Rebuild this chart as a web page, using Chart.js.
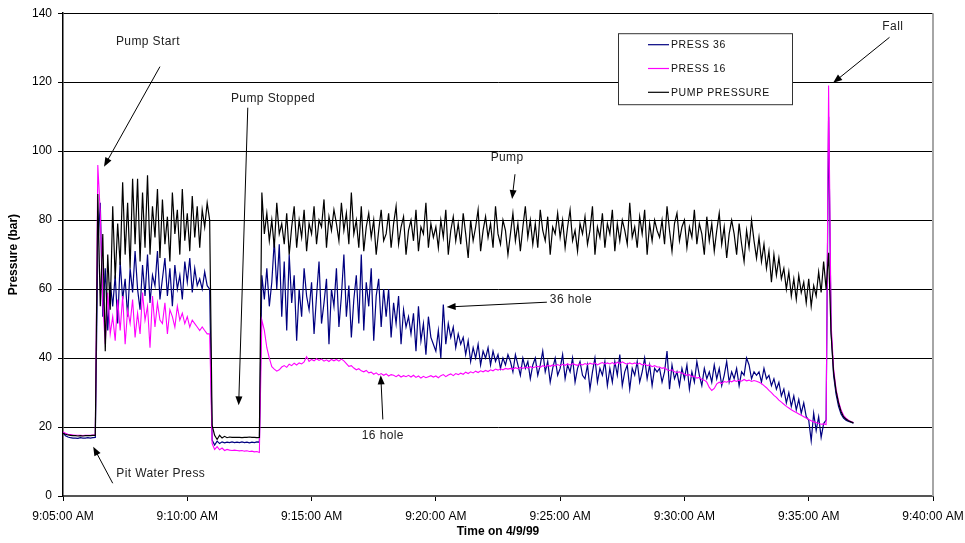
<!DOCTYPE html>
<html>
<head>
<meta charset="utf-8">
<title>Pressure on 4/9/99</title>
<script src="https://cdn.jsdelivr.net/npm/chart.js@4.4.1/dist/chart.umd.min.js"></script>
<style>
  html, body { margin: 0; padding: 0; background: #fff; }
  #wrap { width: 965px; height: 543px; }
</style>
</head>
<body>
<div id="wrap"><canvas id="pressureChart" width="965" height="543"></canvas></div>
<script>
/**
 * Logged readings, one every 6 seconds from 9:05:00 AM (one row = one minute).
 */
const sampleSeconds = 6
const seriesLabels = ["PRESS 36", "PRESS 16", "PUMP PRESSURE"]
const timeTicks = ["9:05:00 AM", "9:10:00 AM", "9:15:00 AM", "9:20:00 AM",
    "9:25:00 AM", "9:30:00 AM", "9:35:00 AM", "9:40:00 AM"]

const press36 = [
    18.3, 17.5, 17.1, 16.9, 16.8, 16.8, 16.7, 16.9, 16.8, 16.8,
    16.9, 16.8, 16.9, 17.0, 72, 85, 52, 66, 48, 62,
    55, 64, 50, 68, 57, 63, 52, 66, 59, 71,
    60, 54, 67, 58, 70, 56, 64, 61, 71, 57,
    63, 69, 58, 66, 55, 67, 60, 64, 57, 68,
    62, 69, 59, 66, 61, 63, 60, 65, 61, 60,
    16.2, 14.8, 15.9, 15.2, 15.7, 15.4, 15.6, 15.5, 15.7, 15.5,
    15.6, 15.5, 15.7, 15.5, 15.6, 15.4, 15.6, 15.5, 15.7, 15.6,
    64, 57, 66, 55, 62, 74, 60, 73, 52, 68,
    48, 70, 56, 64, 45, 60, 52, 66, 58, 54,
    62, 47, 58, 68, 50, 56, 63, 44, 60, 55,
    66, 49, 58, 70, 52, 61, 46, 57, 64, 50,
    70, 48, 62, 55, 66, 45, 58, 63, 49, 60,
    52, 60, 46, 56, 50, 58, 44, 54, 49, 52,
    47, 53, 42, 55, 45, 50, 41, 52, 46, 44,
    42, 48, 40, 55.5, 44, 50, 46, 49, 43, 47,
    44, 46, 41, 45, 39, 43, 40, 44, 38, 42,
    40, 43, 38, 42, 39, 41, 37, 40, 38, 41,
    39, 36, 41, 38, 35, 40, 37, 39, 34, 38,
    40, 35, 38, 42, 36, 39, 33, 37, 40, 35,
    37, 41, 34, 38, 36, 40, 33, 37, 39, 35,
    34, 38, 31, 36, 40, 33, 37, 35, 39, 32,
    37, 33, 39, 35, 41, 32, 36, 38, 31, 37,
    35, 39, 33, 36, 40, 34, 38, 32, 37, 36,
    37, 33, 36, 42, 31, 38, 34, 36, 32, 37,
    34, 38, 31, 36, 33, 39, 35, 32, 37, 34,
    36, 33, 38, 34, 37, 32, 35, 39, 33, 36,
    34, 37, 32, 36, 35, 40, 38, 34, 36, 35,
    36, 33, 37, 34, 35, 32, 34, 31, 33, 29,
    31, 27, 30, 26, 29, 25, 28, 24, 27, 23,
    22, 16, 24, 19, 23, 17, 21, 22, 110, 48,
    35, 29.5, 26, 23.8, 22.6, 22.0, 21.6, 21.4, 21.1
]

const press16 = [
    18.6, 18.2, 17.9, 17.8, 17.7, 17.6, 17.6, 17.6, 17.5, 17.6,
    17.6, 17.6, 17.7, 17.7, 96, 82, 56, 44, 59, 47,
    52, 45, 57, 48, 58, 44, 54, 50, 57, 46,
    53, 47, 59, 51, 55, 43, 58, 49, 56, 51,
    50, 56, 47, 54, 52, 49, 55, 51, 53, 50,
    52, 49, 51, 50, 49, 48, 49, 48, 47, 47,
    15.2, 13.5, 14.3, 13.4, 13.9, 13.2, 13.5, 13.3, 13.2, 13.3,
    13.2, 13.1, 13.2, 13.0, 13.1, 12.9, 13.0, 12.8, 12.9, 12.6,
    51, 48, 43, 40, 37.5, 36.8, 36.2, 36.6, 37.4, 37.8,
    37.3, 38.2, 37.8, 38.5, 38.0, 38.6, 38.3, 38.9, 40.4, 39.0,
    39.6, 39.2, 39.8, 39.3, 39.7, 39.1, 39.5, 39.0, 39.6, 39.2,
    39.6, 39.1, 39.7, 39.2, 38.4, 37.6, 37.8, 37.1, 36.6, 36.9,
    36.3, 36.0, 36.4, 35.7, 35.9, 35.3, 35.7, 35.1, 35.5, 35.0,
    35.4, 34.8, 35.2, 35.0, 34.6, 35.1, 34.5, 34.9, 34.6, 35.0,
    34.5, 35.0, 34.4, 34.8, 34.2, 34.7, 34.3, 34.6, 34.9, 34.5,
    34.8, 34.3, 34.9, 35.2, 34.6, 35.1, 35.4, 34.9, 35.5, 35.2,
    35.6, 35.3, 35.9, 35.5, 36.0, 35.7, 36.2, 35.8, 36.3, 36.0,
    36.4, 36.1, 36.6, 36.3, 36.8, 36.5, 36.9, 36.6, 37.0, 36.8,
    37.0, 36.8, 37.2, 36.9, 37.3, 37.0, 37.4, 37.1, 37.5, 37.2,
    37.4, 37.6, 37.3, 37.8, 37.5, 37.9, 37.6, 38.0, 37.7, 38.1,
    37.8, 38.2, 37.9, 38.3, 38.0, 38.4, 38.1, 37.9, 38.3, 38.0,
    38.4, 38.1, 38.5, 38.2, 38.6, 38.0, 38.4, 38.7, 38.3, 38.6,
    38.3, 38.7, 38.2, 38.8, 38.4, 38.9, 38.5, 38.2, 38.6, 38.3,
    38.6, 38.2, 38.5, 38.0, 38.3, 37.8, 38.0, 37.5, 37.8, 37.4,
    37.4, 37.0, 37.2, 36.6, 36.4, 36.6, 36.0, 35.8, 36.0, 35.6,
    35.4, 35.0, 35.2, 34.6, 34.8, 34.2, 34.4, 33.8, 33.6, 33.0,
    31.5, 30.6, 31.2, 32.5, 33.0, 32.6, 33.2, 33.0, 33.4, 33.1,
    33.5, 33.2, 33.6, 33.3, 33.8, 33.4, 33.6, 33.2, 33.5, 33.3,
    33.0, 32.6, 32.0, 31.4, 30.6, 30.0, 29.2, 28.6, 27.8, 27.2,
    26.6, 26.0, 25.5, 25.0, 24.6, 24.2, 23.8, 23.4, 23.0, 22.6,
    22.2, 21.8, 21.5, 21.3, 21.0, 20.8, 20.9, 20.7, 119, 50,
    37, 31, 27.5, 25, 23.4, 22.6, 22.0, 21.6, 21.3
]

const pumpPressure = [
    18.2, 17.9, 17.7, 17.6, 17.5, 17.5, 17.4, 17.5, 17.4, 17.5,
    17.5, 17.5, 17.6, 17.6, 87.6, 55, 76, 42, 70, 54,
    84, 63, 79, 67, 91, 70, 85, 66, 92, 73,
    92, 68, 88, 72, 93, 70, 84, 75, 89, 69,
    86, 73, 81, 68, 88, 76, 83, 70, 89, 74,
    82, 71, 87, 75, 84, 72, 83, 78, 85, 80,
    20.5, 17.6, 16.4, 17.6, 16.8, 17.3, 16.9, 17.1, 17.0, 17.0,
    17.0, 17.0, 16.9, 17.0, 17.0, 17.1, 17.0, 17.0, 16.9, 17.0,
    88, 76, 82, 74, 80, 72, 85, 76, 79, 73,
    82, 70, 78, 84, 72, 80, 75, 83, 71, 79,
    76, 84, 73, 80, 78, 86, 72, 81, 77, 83,
    79, 74, 85, 77, 82, 73, 88, 76, 80, 72,
    84, 71, 78, 82, 75, 80, 70, 77, 83, 74,
    76, 82, 72, 79, 84, 73, 78, 81, 70, 77,
    80, 74, 83, 71, 78, 76, 85, 72, 79, 75,
    78, 72, 80, 75, 83, 70, 77, 81, 74, 79,
    73, 82, 76, 69, 80, 74, 78, 83, 71, 77,
    81, 75, 79, 72, 84, 76, 73, 80, 77, 70,
    76, 82, 74, 79, 71, 78, 84, 75, 80, 73,
    79, 72, 83, 77, 74, 81, 70, 78, 76, 82,
    75, 80, 72, 78, 83, 74, 77, 71, 79, 76,
    81, 73, 77, 84, 70, 78, 75, 82, 72, 79,
    76, 83, 71, 79, 74, 80, 77, 73, 85, 75,
    78, 72, 81, 76, 83, 70, 79, 74, 80, 77,
    75, 80, 73, 84, 77, 71, 79, 82, 74, 78,
    80, 72, 78, 75, 83, 73, 79, 76, 70, 81,
    74, 79, 71, 77, 82, 73, 78, 69, 76, 80,
    76, 70, 79, 73, 68, 77, 72, 80, 74, 69,
    75, 68, 73, 66, 71, 62, 70, 64, 69, 63,
    66, 60, 65, 58, 63, 57, 64, 59, 62, 56,
    63, 55, 61, 58, 65, 59, 68, 60, 70.5, 47,
    36, 30.5, 27, 24.5, 23, 22.3, 21.8, 21.5, 21.2
]

/**
 * Texto y flechas de las notas, en unidades de los ejes (segundos, bar).
 */
const notes = [
    { text: "Pump Start", at: [205, 131.6], from: [234, 124.5], to: [99, 95.5] },
    { text: "Pump Stopped", at: [507, 115.3], from: [446, 112.6], to: [424, 26.3] },
    { text: "Pump", at: [1072, 98], from: [1091, 93.3], to: [1084, 86.1] },
    { text: "36 hole", at: [1226, 57], from: [1168, 56.2], to: [926, 54.8] },
    { text: "16 hole", at: [772, 17.4], from: [772, 22.2], to: [767, 35] },
    { text: "Pit Water Press", at: [236, 6.6], from: [120, 3.7], to: [73, 14.3] },
    { text: "Fall", at: [2003, 136], from: [1995, 133], to: [1859, 119.8] }
]

const FONT = '"Liberation Sans", Arial, sans-serif'

function toPoints(values) {
    return values.map((v, i) => ({ x: i * sampleSeconds, y: v }))
}

function drawArrow(ctx, x1, y1, x2, y2) {
    const ang = Math.atan2(y2 - y1, x2 - x1)
    const len = 9, half = 3.5
    ctx.strokeStyle = '#000'
    ctx.fillStyle = '#000'
    ctx.lineWidth = 1
    ctx.beginPath()
    ctx.moveTo(x1, y1)
    ctx.lineTo(x2 - Math.cos(ang) * len * 0.8, y2 - Math.sin(ang) * len * 0.8)
    ctx.stroke()
    ctx.beginPath()
    ctx.moveTo(x2, y2)
    ctx.lineTo(x2 - Math.cos(ang) * len - Math.sin(ang) * half, y2 - Math.sin(ang) * len + Math.cos(ang) * half)
    ctx.lineTo(x2 - Math.cos(ang) * len + Math.sin(ang) * half, y2 - Math.sin(ang) * len - Math.cos(ang) * half)
    ctx.closePath()
    ctx.fill()
}

/**
 * Marco derecho, notas con flechas y leyenda dentro del área del gráfico.
 */
const chartNotes = {
    id: 'chartNotes',
    afterDraw(chart) {
        const { ctx, chartArea, scales } = chart
        const xs = scales.x, ys = scales.y
        ctx.save()

        ctx.strokeStyle = '#a6a6a6'
        ctx.lineWidth = 2
        ctx.beginPath()
        ctx.moveTo(chartArea.right, chartArea.top)
        ctx.lineTo(chartArea.right, chartArea.bottom)
        ctx.stroke()

        ctx.font = '12px ' + FONT
        ctx.letterSpacing = '0.4px'
        ctx.textAlign = 'center'
        ctx.textBaseline = 'middle'
        notes.forEach(n => {
            ctx.fillStyle = '#222'
            ctx.fillText(n.text, xs.getPixelForValue(n.at[0]), ys.getPixelForValue(n.at[1]))
            drawArrow(ctx,
                xs.getPixelForValue(n.from[0]), ys.getPixelForValue(n.from[1]),
                xs.getPixelForValue(n.to[0]), ys.getPixelForValue(n.to[1]))
        })

        // leyenda
        const bx = chartArea.right - 315, by = chartArea.top + 20, bw = 174, bh = 71
        ctx.fillStyle = '#fff'
        ctx.fillRect(bx, by, bw, bh)
        ctx.strokeStyle = '#333'
        ctx.lineWidth = 1
        ctx.strokeRect(bx + 0.5, by + 0.5, bw, bh)
        ctx.font = '10.5px ' + FONT
        ctx.letterSpacing = '0.6px'
        ctx.textAlign = 'left'
        chart.data.datasets.forEach((ds, i) => {
            const ly = by + 11.5 + i * 23.8
            ctx.strokeStyle = ds.borderColor
            ctx.lineWidth = 1.2
            ctx.beginPath()
            ctx.moveTo(bx + 30, ly)
            ctx.lineTo(bx + 51, ly)
            ctx.stroke()
            ctx.fillStyle = '#111'
            ctx.fillText(ds.label, bx + 53, ly + 0.5)
        })
        ctx.letterSpacing = '0px'
        ctx.restore()
    }
}

const pressureChart = new Chart(document.querySelector('#pressureChart'), {
    type: 'line',
    data: {
        datasets: [
            { label: seriesLabels[0], data: toPoints(press36), borderColor: '#000080', borderWidth: 1.2, order: 2 },
            { label: seriesLabels[1], data: toPoints(press16), borderColor: '#ff00ff', borderWidth: 1.1, order: 1 },
            { label: seriesLabels[2], data: toPoints(pumpPressure), borderColor: '#000000', borderWidth: 1.2, order: 0 }
        ]
    },
    options: {
        responsive: false,
        animation: false,
        devicePixelRatio: 1,
        layout: { padding: { top: 12, right: 32, left: 0, bottom: 0 } },
        elements: {
            point: { radius: 0 },
            line: { tension: 0, fill: false }
        },
        plugins: {
            legend: { display: false },
            tooltip: { enabled: false }
        },
        scales: {
            x: {
                type: 'linear',
                min: 0,
                max: 2100,
                afterFit: s => {
                    s.height = 47
                    s.paddingLeft = 0
                    s.paddingRight = 0
                },
                ticks: {
                    stepSize: 300,
                    autoSkip: false,
                    maxRotation: 0,
                    padding: 8,
                    color: '#000',
                    font: { family: FONT, size: 12 },
                    callback: v => timeTicks[Math.round(v / 300)]
                },
                grid: { drawOnChartArea: false, drawTicks: true, tickLength: 5, color: '#000' },
                border: { display: true, color: '#555', width: 2 },
                title: {
                    display: true,
                    text: 'Time on 4/9/99',
                    color: '#000',
                    font: { family: FONT, size: 12, weight: 'bold' },
                    padding: { top: 2, bottom: 4 }
                }
            },
            y: {
                min: 0,
                max: 140,
                afterFit: s => { s.width = 63 },
                ticks: {
                    stepSize: 20,
                    padding: 6,
                    color: '#000',
                    font: { family: FONT, size: 12 }
                },
                grid: { color: '#000', lineWidth: 1, tickLength: 5 },
                border: { display: true, color: '#000', width: 1.5 },
                title: {
                    display: true,
                    text: 'Pressure (bar)',
                    color: '#000',
                    font: { family: FONT, size: 12, weight: 'bold' },
                    padding: { top: 6, bottom: 2 }
                }
            }
        }
    },
    plugins: [chartNotes]
})
</script>
</body>
</html>
